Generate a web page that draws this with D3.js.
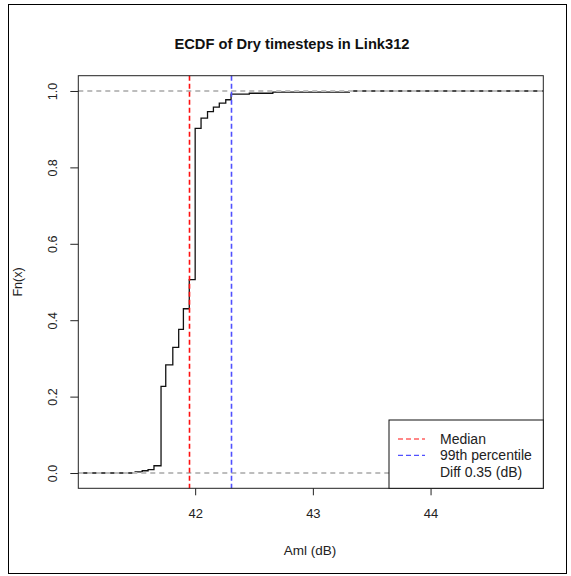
<!DOCTYPE html>
<html><head><meta charset="utf-8">
<script src="https://cdn.jsdelivr.net/npm/d3@7"></script>
<style>body{margin:0;background:#fff}svg{display:block}text{font-family:"Liberation Sans",Arial,sans-serif}</style>
</head><body>
<script>
// ---- data ----
const stepX = [41.49, 41.55, 41.60, 41.65, 41.71, 41.75, 41.81, 41.86, 41.90, 41.95, 42.00, 42.05, 42.105, 42.155, 42.205, 42.26, 42.305, 42.46, 42.66, 43.31];
const stepF = [0.003, 0.006, 0.009, 0.019, 0.227, 0.283, 0.329, 0.376, 0.430, 0.506, 0.902, 0.929, 0.946, 0.958, 0.968, 0.977, 0.992, 0.994, 0.997, 1.0];
const xTicks = [42, 43, 44];
const yTicks = [0, 0.2, 0.4, 0.6, 0.8, 1.0];
const medianVal = 41.952;
const p99Val = 42.305;
const legendLabels = ["Median", "99th percentile", "Diff 0.35 (dB)"];
const legendColors = ["#ff1010", "#5050ff", null];
const titleText = "ECDF of Dry timesteps in Link312";
const xLabel = "Aml (dB)";
const yLabel = "Fn(x)";

const W = 571, H = 576;
const L = 78.3, R = 543.3, T = 75.7, B = 488.3;

const svg = d3.select("body").append("svg").attr("width", W).attr("height", H);
svg.append("rect").attr("width", W).attr("height", H).attr("fill", "#fff");
svg.append("rect").attr("x", 8.5).attr("y", 4.5).attr("width", 558).attr("height", 569)
  .attr("fill", "none").attr("stroke", "#000").attr("stroke-width", 1);

const x = d3.scaleLinear().domain([41.007, 44.958]).range([L, R]);
const y = d3.scaleLinear().domain([-0.04, 1.04]).range([B, T]);

svg.append("defs").append("clipPath").attr("id", "clip")
  .append("rect").attr("x", L).attr("y", T).attr("width", R - L).attr("height", B - T);

// ECDF
const pts = [{x: x.domain()[0], F: 0}].concat(stepX.map((v, i) => ({x: v, F: stepF[i]})))
  .concat([{x: x.domain()[1], F: 1}]);
const line = d3.line().x(d => x(d.x)).y(d => y(d.F)).curve(d3.curveStepAfter);
svg.append("path").attr("d", line(pts)).attr("clip-path", "url(#clip)")
  .attr("fill", "none").attr("stroke", "#111").attr("stroke-width", 1.3);

// reference lines
[0, 1].forEach(v => {
  svg.append("line").attr("x1", L).attr("x2", R).attr("y1", y(v)).attr("y2", y(v))
    .attr("stroke", "#bdbdbd").attr("stroke-width", 1.8).attr("stroke-dasharray", "5,4");
});
[[medianVal, legendColors[0]], [p99Val, legendColors[1]]].forEach(([v, c]) => {
  const px = Math.floor(x(v)) + 0.5;
  svg.append("line").attr("x1", px).attr("x2", px).attr("y1", T).attr("y2", B)
    .attr("stroke", c).attr("stroke-width", 1.6).attr("stroke-dasharray", "5,3");
});

// box
svg.append("rect").attr("x", L).attr("y", T).attr("width", R - L).attr("height", B - T)
  .attr("fill", "none").attr("stroke", "#222").attr("stroke-width", 1);

// axes
const xAxis = svg.append("g").attr("transform", `translate(0,${B})`)
  .call(d3.axisBottom(x).tickValues(xTicks).tickSize(7).tickPadding(13).tickFormat(d3.format("d")));
xAxis.select(".domain").remove();
xAxis.selectAll("text").attr("font-size", 13).attr("fill", "#222").attr("font-family", "Liberation Sans, Arial");
xAxis.selectAll("line").attr("stroke", "#222");

const yAxis = svg.append("g").attr("transform", `translate(${L},0)`)
  .call(d3.axisLeft(y).tickValues(yTicks).tickSize(8).tickFormat(d3.format(".1f")));
yAxis.select(".domain").remove();
yAxis.selectAll("line").attr("stroke", "#222");
yAxis.selectAll("text")
  .attr("font-size", 12.5).attr("fill", "#222").attr("font-family", "Liberation Sans, Arial")
  .attr("x", null).attr("dy", null)
  .attr("text-anchor", "middle")
  .attr("transform", `translate(${52 - L + 4.5},0) rotate(-90)`);

// labels
svg.append("text").attr("x", 292).attr("y", 49).attr("text-anchor", "middle")
  .attr("font-size", 14.7).attr("font-weight", "bold").attr("fill", "#111").text(titleText);
svg.append("text").attr("x", 310).attr("y", 554.5).attr("text-anchor", "middle")
  .attr("font-size", 13.5).attr("fill", "#222").text(xLabel);
svg.append("text").attr("transform", `translate(22,${(T + B) / 2}) rotate(-90)`)
  .attr("text-anchor", "middle").attr("font-size", 12.5).attr("fill", "#222").text(yLabel);

// legend
const lg = svg.append("g");
lg.append("rect").attr("x", 389).attr("y", 420).attr("width", R - 389).attr("height", B - 420)
  .attr("fill", "#fff").attr("stroke", "#111").attr("stroke-width", 1);
legendLabels.forEach((t, i) => {
  const yy = 439 + i * 16.3;
  if (legendColors[i]) {
    lg.append("line").attr("x1", 398).attr("x2", 425).attr("y1", yy).attr("y2", yy)
      .attr("stroke", legendColors[i]).attr("stroke-width", 1.2).attr("stroke-dasharray", "5,3");
  }
  lg.append("text").attr("x", 440).attr("y", yy + 5).attr("font-size", 14).attr("fill", "#222").text(t);
});
</script>
</body></html>
